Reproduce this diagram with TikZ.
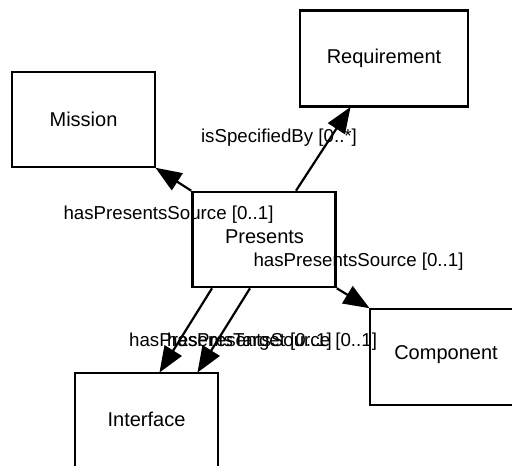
\documentclass[tikz,border=0pt]{standalone}
\usepackage{fontspec}
\setmainfont{Liberation Sans}
\usetikzlibrary{arrows.meta}
\tikzset{
  box/.style={draw, line width=2.6pt, minimum width=143pt, minimum height=95pt, inner sep=0pt,
    font=\fontsize{20}{24}\selectfont},
  conn/.style={line width=2.2pt, -{Triangle[length=26pt,width=20pt]}, shorten >=-1pt},
  lbl/.style={inner sep=0pt, font=\fontsize{18.7}{22}\selectfont},
}
\begin{document}
\begin{tikzpicture}[x=1pt,y=-1pt]
\useasboundingbox (0,0) rectangle (512,466);
\node[box] (mission) at (83.5,119.5) {Mission};
\node[box, minimum width=168pt, minimum height=96pt] (requirement) at (384,58.5) {Requirement};
\node[box] (presents) at (264,239.5) {};
\node[box, minimum height=96pt] (component) at (441.5,357) {};
\node[box, minimum height=96pt] (interface) at (146.5,421) {};
\node[lbl, font=\fontsize{20}{24}\selectfont] (presentsText) at (264.5,237) {Presents};
\node[lbl, font=\fontsize{20}{24}\selectfont] (componentText) at (446,355) {Component};
\node[lbl, font=\fontsize{20}{24}\selectfont] (interfaceText) at (146.5,419) {Interface};

\draw[conn] (presents.north west) -- (mission.south east);
\draw[conn] ([xshift=32pt]presents.north) -- ([xshift=-34pt]requirement.south);
\draw[conn] (presents.south east) -- (component.north west);
\draw[conn] ([xshift=-52pt]presents.south) -- ([xshift=13.5pt]interface.north);
\draw[conn] ([xshift=-14pt]presents.south) -- ([xshift=51.5pt]interface.north);

\node[lbl] (l1) at (279,137.5) {isSpecifiedBy [0..*]};
\node[lbl] (l2) at (168.5,215) {hasPresentsSource [0..1]};
\node[lbl] (l3) at (358.5,261.5) {hasPresentsSource [0..1]};
\node[lbl] (l4) at (230.5,342) {hasPresentsTarget [0..1]};
\node[lbl] (l5) at (272,342) {hasPresentsSource [0..1]};
\end{tikzpicture}
\end{document}
